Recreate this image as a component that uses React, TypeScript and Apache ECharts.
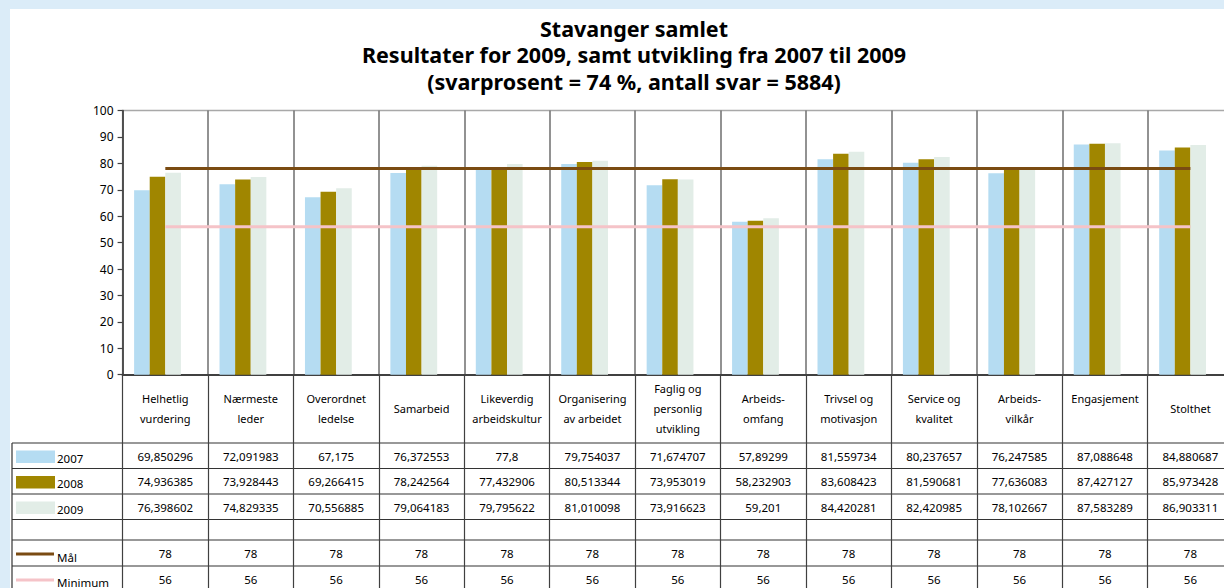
import React, { useEffect, useRef } from "react";
import * as echarts from "echarts";

const categories = [
  "Helhetlig\nvurdering",
  "Nærmeste\nleder",
  "Overordnet\nledelse",
  "Samarbeid",
  "Likeverdig\narbeidskultur",
  "Organisering\nav arbeidet",
  "Faglig og\npersonlig\nutvikling",
  "Arbeids-\nomfang",
  "Trivsel og\nmotivasjon",
  "Service og\nkvalitet",
  "Arbeids-\nvilkår",
  "Engasjement\n",
  "Stolthet",
];

const values2007 = [69.850296, 72.091983, 67.175, 76.372553, 77.8, 79.754037, 71.674707, 57.89299, 81.559734, 80.237657, 76.247585, 87.088648, 84.880687];
const values2008 = [74.936385, 73.928443, 69.266415, 78.242564, 77.432906, 80.513344, 73.953019, 58.232903, 83.608423, 81.590681, 77.636083, 87.427127, 85.973428];
const values2009 = [76.398602, 74.829335, 70.556885, 79.064183, 79.795622, 81.010098, 73.916623, 59.201, 84.420281, 82.420985, 78.102667, 87.583289, 86.903311];
const valuesMal = [78, 78, 78, 78, 78, 78, 78, 78, 78, 78, 78, 78, 78];
const valuesMinimum = [56, 56, 56, 56, 56, 56, 56, 56, 56, 56, 56, 56, 56];
const emptyRow = [null, null, null, null, null, null, null, null, null, null, null, null, null];

const seriesNames = ["2007", "2008", "2009", "Mål", "Minimum"];
const yTicks = { min: 0, max: 100, interval: 10 };

const titleLines = [
  "Stavanger samlet",
  "Resultater for 2009, samt utvikling fra 2007 til 2009",
  "(svarprosent = 74 %, antall svar = 5884)",
];

const C_BLUE = "#b5dcf2";
const C_OLIVE = "#a08600";
const C_PALE = "#e2ede7";
const C_MAL = "#7a4b12";
const C_MIN = "#f5c3c8";
const FONT = "'Noto Sans', sans-serif";

const fmt = (v: number) => String(v).replace(".", ",");

export default function App() {
  const ref = useRef<HTMLDivElement>(null);
  useEffect(() => {
    const chart = echarts.init(ref.current!, null, { renderer: "svg" });
    const gridBottom = 374.7;
    const rowAxis = (vals: number[], center: number) => ({
      type: "category",
      gridIndex: 0,
      position: "bottom",
      data: categories,
      offset: center - gridBottom,
      axisLine: { show: false },
      axisTick: { show: false },
      splitLine: { show: false },
      axisLabel: {
        interval: 0,
        margin: 0,
        verticalAlign: "middle",
        fontFamily: FONT,
        fontSize: 11.5,
        color: "#000",
        formatter: (_: string, i: number) => fmt(vals[i]),
      },
    });
    const rowLines = [443, 468.5, 494, 519.5, 540, 566];
    const graphics: any[] = [
      { type: "rect", z: -10, shape: { x: 10, y: 9, width: 1230, height: 600 }, style: { fill: "#ffffff" } },
      ...rowLines.map((y) => ({
        type: "line",
        shape: { x1: 12, y1: y, x2: 1240, y2: y },
        style: { stroke: "#333333", lineWidth: 1.2 },
      })),
      { type: "line", shape: { x1: 12, y1: 443, x2: 12, y2: 600 }, style: { stroke: "#333333", lineWidth: 1.2 } },
      { type: "rect", shape: { x: 16, y: 450.5, width: 39, height: 12.5 }, style: { fill: C_BLUE } },
      { type: "rect", shape: { x: 16, y: 476, width: 39, height: 12.5 }, style: { fill: C_OLIVE } },
      { type: "rect", shape: { x: 16, y: 501.5, width: 39, height: 12.5 }, style: { fill: C_PALE } },
      { type: "line", shape: { x1: 16, y1: 554, x2: 54, y2: 554 }, style: { stroke: C_MAL, lineWidth: 3 } },
      { type: "line", shape: { x1: 16, y1: 580, x2: 54, y2: 580 }, style: { stroke: C_MIN, lineWidth: 3 } },
      ...[
        [seriesNames[0], 458],
        [seriesNames[1], 483.5],
        [seriesNames[2], 509],
        [seriesNames[3], 557],
        [seriesNames[4], 582],
      ].map(([t, y]) => ({
        type: "text",
        x: 57,
        y: y as number,
        style: { text: t as string, fontFamily: FONT, fontSize: 11.5, fill: "#000", verticalAlign: "middle", align: "left" },
      })),
    ];

    const titleTops = [17, 43.5, 70];
    chart.setOption({
      animation: false,
      backgroundColor: "#dbecf8",
      title: titleLines.map((t, i) => ({
        text: t,
        left: 634,
        top: titleTops[i],
        textAlign: "center",
        padding: 0,
        textStyle: { fontFamily: FONT, fontSize: 21.5, fontWeight: "bold", color: "#000", lineHeight: 22 },
      })),
      grid: {
        left: 122.6,
        top: 110.5,
        width: 1110.5,
        height: 264.2,
        containLabel: false,
        outerBoundsMode: "none",
        show: true,
        borderColor: "#a8a8a8",
        borderWidth: 1.5,
        backgroundColor: "transparent",
      },
      graphic: graphics,
      xAxis: [
        {
          type: "category",
          data: categories,
          axisLine: { show: true, lineStyle: { color: "#404040", width: 2 } },
          axisTick: { show: true, interval: 0, length: 215, lineStyle: { color: "#404040", width: 1.2 } },
          splitLine: { show: true, interval: 0, lineStyle: { color: "#6e6e6e", width: 1.5 } },
          axisLabel: {
            interval: 0,
            margin: 34,
            verticalAlign: "middle",
            fontFamily: FONT,
            fontSize: 11,
            lineHeight: 20,
            color: "#000",
          },
        },
        rowAxis(values2007, 456),
        rowAxis(values2008, 481.5),
        rowAxis(values2009, 507),
        rowAxis(valuesMal, 553),
        rowAxis(valuesMinimum, 579),
      ],
      yAxis: {
        type: "value",
        min: yTicks.min,
        max: yTicks.max,
        interval: yTicks.interval,
        axisLine: { show: true, lineStyle: { color: "#404040", width: 1.5 } },
        axisTick: { show: true, length: 5, lineStyle: { color: "#404040", width: 1.2 } },
        splitLine: { show: false },
        axisLabel: { fontFamily: FONT, fontSize: 12, color: "#000", margin: 9 },
      },
      series: [
        { name: seriesNames[0], type: "bar", data: values2007, barWidth: 15.6, barGap: "0%", itemStyle: { color: C_BLUE } },
        { name: seriesNames[1], type: "bar", data: values2008, barWidth: 15.6, barGap: "0%", itemStyle: { color: C_OLIVE } },
        { name: seriesNames[2], type: "bar", data: values2009, barWidth: 15.6, barGap: "0%", itemStyle: { color: C_PALE } },
        { name: "", type: "bar", data: emptyRow, barWidth: 15.6, barGap: "0%" },
        { name: seriesNames[3], type: "line", data: valuesMal, symbol: "none", z: 5, lineStyle: { color: C_MAL, width: 3 } },
        { name: seriesNames[4], type: "line", data: valuesMinimum, symbol: "none", z: 5, lineStyle: { color: C_MIN, width: 3 } },
      ],
    });
    return () => chart.dispose();
  }, []);
  return (
    <div
      ref={ref}
      style={{ position: "fixed", left: 0, top: 0, width: 1224, height: 588 }}
    />
  );
}
